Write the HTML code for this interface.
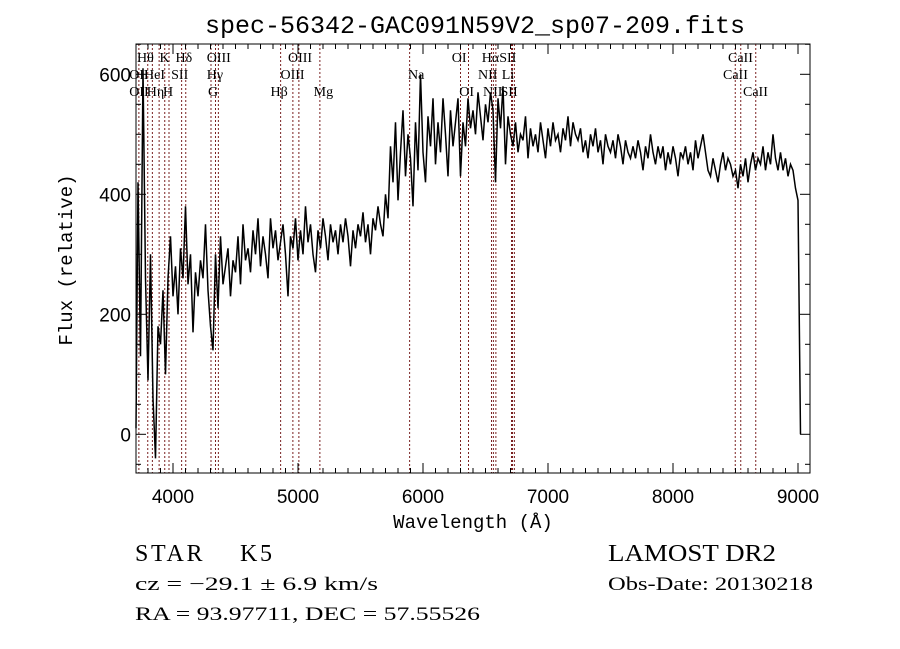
<!DOCTYPE html>
<html><head><meta charset="utf-8">
<style>
html,body{margin:0;padding:0;background:#fff;}
svg{display:block;}
text{font-family:"Liberation Serif",serif;fill:#000;}
</style></head>
<body>
<svg id="chart" width="900" height="649" viewBox="0 0 900 649">
  <rect width="900" height="649" fill="#fff"/>
  <text x="475" y="33" text-anchor="middle" style="font-family:'Liberation Mono',monospace;font-size:25px">spec-56342-GAC091N59V2_sp07-209.fits</text>
  <g id="lines"></g>
  <g id="labels"></g>
  <path id="spec" fill="none" stroke="#000" stroke-width="1.5" stroke-linejoin="miter"/>
  <rect x="136" y="44" width="674" height="429" fill="none" stroke="#000" stroke-width="1"/>
  <g id="ticks"></g>
  <text x="473" y="528" text-anchor="middle" style="font-family:'Liberation Mono',monospace;font-size:19px">Wavelength (Å)</text>
  <text transform="translate(72,260) rotate(-90)" text-anchor="middle" style="font-family:'Liberation Mono',monospace;font-size:19px">Flux (relative)</text>
  <text x="135" y="561" style="font-size:24px" textLength="137" lengthAdjust="spacing">STAR&#160;&#160;&#160;&#160;K5</text>
  <text x="608" y="561" style="font-size:24px" textLength="168" lengthAdjust="spacingAndGlyphs">LAMOST DR2</text>
  <text x="135" y="590" style="font-size:19px" textLength="243" lengthAdjust="spacingAndGlyphs">cz = −29.1 ± 6.9 km/s</text>
  <text x="608" y="590" style="font-size:19px" textLength="205" lengthAdjust="spacingAndGlyphs">Obs-Date: 20130218</text>
  <text x="135" y="620" style="font-size:19px" textLength="345" lengthAdjust="spacingAndGlyphs">RA =  93.97711, DEC =  57.55526</text>
</svg>
<script>
const waveStart = 3700;
const waveStep = 20;
const flux = [
10,420,130,610,260,90,300,60,-40,180,
150,240,100,260,330,230,280,200,310,260,
380,250,300,170,270,230,290,260,350,240,
180,140,300,210,330,250,280,310,230,290,
270,330,250,350,290,310,270,340,300,360,
280,330,300,260,360,310,340,290,320,350,
300,230,330,310,360,290,340,300,380,320,
350,300,270,340,310,360,330,290,350,320,
340,300,350,320,360,330,280,340,310,350,
330,370,320,350,300,360,340,380,350,330,
400,360,480,420,520,390,470,540,430,500,
460,380,520,440,600,470,420,530,480,560,
450,520,470,560,500,430,540,480,520,560,
430,520,480,560,510,540,500,570,530,490,
550,520,570,540,420,560,510,580,450,530,
500,480,520,470,500,490,530,460,510,480,
500,470,520,490,460,510,480,520,490,500,
470,510,490,530,480,520,500,490,510,470,
490,460,500,480,510,470,490,450,500,480,
470,490,460,500,480,450,490,470,460,480,
460,490,470,440,480,460,500,470,450,480,
460,480,440,470,450,480,460,430,470,460,
480,450,470,440,490,460,480,500,470,440,
430,460,440,420,450,470,440,460,450,430,
440,410,450,430,460,420,450,470,440,460,
450,480,440,470,450,500,460,440,470,440,
460,430,450,440,410,390,0
];
const lineWaves = [3727,3798,3835,3889,3934,3968,4069,4102,4304,4340,4363,4861,4959,5007,5175,5893,6300,6364,6548,6563,6583,6708,6716,6731,8498,8542,8662];
const labelTexts = ["Hθ","K","Hδ","OIII","OIII","OI","HαSII","CaII","OII","HeI","SII","Hγ","OIII","Na","NII","Li","CaII","OII","Hη","H","G","Hβ","Mg","OI","NII","SII","CaII"];
const labelWaves = [3712,3892,4020,4270,4920,6230,6470,8440,3650,3768,3985,4270,4860,5880,6440,6630,8400,3650,3790,3920,4280,4780,5125,6290,6480,6620,8560];
const labelRows = [0,0,0,0,0,0,0,0,1,1,1,1,1,1,1,1,1,2,2,2,2,2,2,2,2,2,2];
const xTicks = [4000,5000,6000,7000,8000,9000];
const yTicks = [0,200,400,600];

const X = w => 173 + (w - 4000) * 0.125;
const Y = f => 434.3 - f * 0.6;
const NS = "http://www.w3.org/2000/svg";

let d = "";
flux.forEach((f, i) => {
  const w = waveStart + i * waveStep;
  const x = Math.min(Math.max(X(w), 136), 810);
  const y = Math.min(Math.max(Y(f), 44), 473);
  d += (i ? "L" : "M") + x.toFixed(1) + " " + y.toFixed(1);
});
document.getElementById("spec").setAttribute("d", d);

const lg = document.getElementById("lines");
lineWaves.forEach(w => {
  const l = document.createElementNS(NS, "line");
  l.setAttribute("x1", X(w)); l.setAttribute("x2", X(w));
  l.setAttribute("y1", 44); l.setAttribute("y2", 473);
  l.setAttribute("stroke", "#7a2020"); l.setAttribute("stroke-width", "1");
  l.setAttribute("stroke-dasharray", "2,2");
  
  
  lg.appendChild(l);
});

const lb = document.getElementById("labels");
const rowY = [62, 79, 96];
labelTexts.forEach((t, i) => {
  const tx = document.createElementNS(NS, "text");
  tx.setAttribute("x", X(labelWaves[i]));
  tx.setAttribute("y", rowY[labelRows[i]]);
  tx.setAttribute("style", "font-size:14px");
  tx.textContent = t;
  
  
  lb.appendChild(tx);
});

const tg = document.getElementById("ticks");
function tick(x1, y1, x2, y2) {
  const l = document.createElementNS(NS, "line");
  l.setAttribute("x1", x1); l.setAttribute("y1", y1);
  l.setAttribute("x2", x2); l.setAttribute("y2", y2);
  l.setAttribute("stroke", "#000");
  
  
  tg.appendChild(l);
}
for (let w = 3800; w <= 9000; w += 100) {
  const major = w % 1000 === 0;
  const len = major ? 10 : 5;
  tick(X(w), 473, X(w), 473 - len);
  tick(X(w), 44, X(w), 44 + len);
}
for (let f = -50; f <= 650; f += 50) {
  const major = f % 200 === 0;
  const len = major ? 10 : 5;
  tick(136, Y(f), 136 + len, Y(f));
  tick(810, Y(f), 810 - len, Y(f));
}
xTicks.forEach(w => {
  const t = document.createElementNS(NS, "text");
  t.setAttribute("x", X(w)); t.setAttribute("y", 503);
  t.setAttribute("text-anchor", "middle");
  t.setAttribute("style", "font-family:'Liberation Sans',sans-serif;font-size:19px");
  t.textContent = w;
  
  
  tg.appendChild(t);
});
yTicks.forEach(f => {
  const t = document.createElementNS(NS, "text");
  t.setAttribute("x", 131); t.setAttribute("y", Y(f) + 7);
  t.setAttribute("text-anchor", "end");
  t.setAttribute("style", "font-family:'Liberation Sans',sans-serif;font-size:19px");
  t.textContent = f;
  
  
  tg.appendChild(t);
});
</script>
</body></html>
